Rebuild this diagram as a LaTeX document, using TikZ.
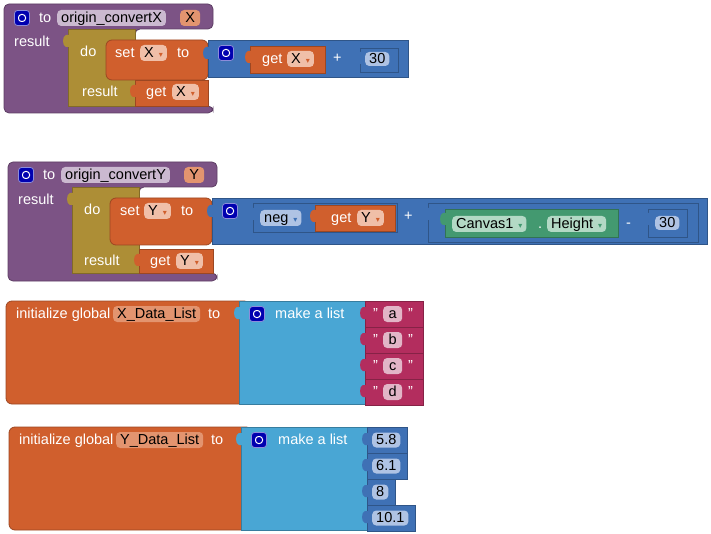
\documentclass[tikz,border=0pt]{standalone}
\usepackage{fontspec}
\setmainfont{Liberation Sans}
\newfontfamily\dejavu{DejaVu Sans}
\usepackage{xcolor}
\usepackage{tikz}
\usetikzlibrary{positioning}
\definecolor{procP}{HTML}{7C5385}
\definecolor{ctrlO}{HTML}{AD8E36}
\definecolor{varO}{HTML}{D05F2D}
\definecolor{mathB}{HTML}{3F71B5}
\definecolor{listB}{HTML}{49A6D4}
\definecolor{textM}{HTML}{B32D5E}
\definecolor{compG}{HTML}{439970}
\definecolor{iconB}{HTML}{0000B0}
\definecolor{nameP}{HTML}{CBB9D0}
\definecolor{parO}{HTML}{E3946F}
\definecolor{varL}{HTML}{F0BFA8}
\definecolor{numL}{HTML}{AFC3E4}
\definecolor{compL}{HTML}{B3D9C5}
\definecolor{textL}{HTML}{E2B5C7}
\newcommand{\ddn}[1]{\hspace{5pt}{\dejavu\fontsize{8}{8}\selectfont\textcolor{#1}{▾}}}
\newcommand{\plug}[3]{\fill[#3] (#1+1,#2) -- (#1-2,#2) .. controls (#1-6,#2+1) and (#1-6,#2+11) .. (#1-2,#2+12) -- (#1+1,#2+12) -- cycle;}

\begin{document}
\begin{tikzpicture}[x=1pt, y=-1pt,
    every node/.style={font=\fontsize{14.5}{16}\selectfont},
    blk/.style={fill=#1, draw=#1!75!black, line width=0.8pt},
    lbl/.style={anchor=west, text=white, inner sep=0pt, text height=10.5pt, text depth=2pt},
    pill/.style={fill=#1, rounded corners=4pt, anchor=west, inner xsep=4pt, inner ysep=0pt,
                 minimum height=16pt, text height=10.5pt, text depth=2pt, text=black},
    icon/.style={fill=iconB, draw=white!55!iconB, line width=0.8pt, rounded corners=3pt,
                 minimum size=15pt, inner sep=0pt,
                 path picture={\draw[white, line width=1pt]
                   ([shift={(-3.5pt,-3.5pt)}]path picture bounding box.center) rectangle
                   ([shift={(3.5pt,3.5pt)}]path picture bounding box.center);}}]
  \useasboundingbox (0,0) rectangle (711,534);

  % origin_convertX
  \draw[blk=procP, rounded corners=5pt] (4,4) -- (213,4) -- (213,29) -- (135,29) -- (135,106)
        -- (213,106) -- (213,113) -- (4,113) -- cycle;
  \draw[blk=ctrlO] (68,29) rectangle (135,106);
  \plug{68}{35}{ctrlO}
  \draw[blk=varO, rounded corners=6pt] (106,80) -- (106,40) -- (208,40) -- (208,80) -- cycle;
  \draw[blk=mathB] (208,40) rectangle (408,77);
  \plug{208}{47}{mathB}
  \draw[blk=varO] (250,46) rectangle (325,73);
  \plug{250}{51}{varO}
  \draw[blk=mathB] (360,48) rectangle (398,72);
  \plug{360}{52}{mathB}
  \draw[blk=varO] (135,80) rectangle (208,106);
  \plug{135}{85}{varO}

  \node[icon] (icX) at (22,18) {};
  \node[lbl] (toX) at (39,18) {to};
  \node[pill=nameP] (nmX) at (57,18) {origin\_convertX};
  \node[pill=parO, minimum width=20pt] (prX) at (180,18) {X};
  \node[lbl] (resX) at (14,42) {result};
  \node[lbl] (doX) at (80,52) {do};
  \node[lbl] (setX) at (115,53) {set};
  \node[pill=varL] (svX) at (140,53) {X\ddn{varO}};
  \node[lbl] (stoX) at (177,53) {to};
  \node[icon] (icAddX) at (226,53) {};
  \node[lbl] (gtX) at (262,59) {get};
  \node[pill=varL] (gvX) at (287,59) {X\ddn{varO}};
  \node[lbl] (plX) at (333,58) {+};
  \node[pill=numL, minimum height=14pt] (nX) at (365,59) {30};
  \node[lbl] (rsX) at (82,92) {result};
  \node[lbl] (gtrX) at (146,92) {get};
  \node[pill=varL] (gvrX) at (172,92) {X\ddn{varO}};

  % origin_convertY
  \draw[blk=procP, rounded corners=5pt] (8,162) -- (217,162) -- (217,187) -- (139,187) -- (139,273)
        -- (217,273) -- (217,281) -- (8,281) -- cycle;
  \draw[blk=ctrlO] (72,187) rectangle (139,273);
  \plug{72}{193}{ctrlO}
  \draw[blk=varO, rounded corners=6pt] (110,245) -- (110,198) -- (212,198) -- (212,245) -- cycle;
  \draw[blk=mathB] (212,198) rectangle (707,244);
  \plug{212}{205}{mathB}
  \draw[blk=mathB] (253,203) rectangle (397,232);
  \plug{253}{208}{mathB}
  \draw[blk=varO] (315,205) rectangle (395,231);
  \plug{315}{210}{varO}
  \draw[blk=mathB] (428,203) rectangle (698,242);
  \plug{428}{208}{mathB}
  \draw[blk=compG] (445,209) rectangle (618,237);
  \plug{445}{213}{compG}
  \draw[blk=mathB] (648,209) rectangle (687,237);
  \plug{648}{213}{mathB}
  \draw[blk=varO] (139,249) rectangle (213,273);
  \plug{139}{254}{varO}

  \node[icon] (icY) at (26,175) {};
  \node[lbl] (toY) at (43,175) {to};
  \node[pill=nameP] (nmY) at (61,175) {origin\_convertY};
  \node[pill=parO, minimum width=20pt] (prY) at (184,175) {Y};
  \node[lbl] (resY) at (18,200) {result};
  \node[lbl] (doY) at (84,210) {do};
  \node[lbl] (setY) at (120,211) {set};
  \node[pill=varL] (svY) at (144,211) {Y\ddn{varO}};
  \node[lbl] (stoY) at (181,211) {to};
  \node[icon] (icAddY) at (230,211) {};
  \node[pill=numL] (negY) at (260,218) {neg\ddn{mathB}};
  \node[lbl] (gtY) at (331,218) {get};
  \node[pill=varL] (gvY) at (357,218) {Y\ddn{varO}};
  \node[lbl] (plY) at (404,216) {+};
  \node[pill=compL] (cvY) at (452,224) {Canvas1\ddn{compG}};
  \node[lbl] (dotY) at (538,224) {.};
  \node[pill=compL] (htY) at (547,224) {Height\ddn{compG}};
  \node[lbl] (mnY) at (626,223) {-};
  \node[pill=numL, minimum height=14pt] (nY) at (655,223) {30};
  \node[lbl] (rsY) at (84,261) {result};
  \node[lbl] (gtrY) at (150,261) {get};
  \node[pill=varL] (gvrY) at (176,261) {Y\ddn{varO}};

  % X_Data_List
  \draw[blk=varO, rounded corners=6pt] (6,301) rectangle (250,404);
  \draw[blk=listB] (239,301) rectangle (365,404);
  \plug{239}{307}{listB}
  \node[lbl] (igX) at (16,314) {initialize global};
  \node[pill=parO] (dlX) at (113,314) {X\_Data\_List};
  \node[lbl] (itX) at (208,314) {to};
  \node[icon] (icLX) at (257,314) {};
  \node[lbl] (mkX) at (275,314) {make a list};
  \foreach \i/\t in {0/a,1/b,2/c,3/d}{
    \draw[blk=textM] (365,301+26*\i) rectangle (423,327+26*\i);
    \plug{365}{307+26*\i}{textM}
    \node[lbl] (ql\t) at (373,314+26*\i) {"};
    \node[pill=textL, minimum width=19pt] (s\t) at (383,314+26*\i) {\t};
    \node[lbl] (qr\t) at (408,314+26*\i) {"};
  }

  % Y_Data_List
  \draw[blk=varO, rounded corners=6pt] (9,427) rectangle (252,530);
  \draw[blk=listB] (241,427) rectangle (367,530);
  \plug{241}{433}{listB}
  \node[lbl] (igY) at (19,440) {initialize global};
  \node[pill=parO] (dlY) at (116,440) {Y\_Data\_List};
  \node[lbl] (itY) at (211,440) {to};
  \node[icon] (icLY) at (259,440) {};
  \node[lbl] (mkY) at (278,440) {make a list};
  \foreach \i/\v/\w in {0/5.8/407,1/6.1/407,2/8/395,3/10.1/415}{
    \draw[blk=mathB] (367,427+26*\i) rectangle (\w,453+26*\i);
    \plug{367}{433+26*\i}{mathB}
    \node[pill=numL, minimum height=15pt] (v\i) at (372,440+26*\i) {\v};
  }
\end{tikzpicture}
\end{document}
